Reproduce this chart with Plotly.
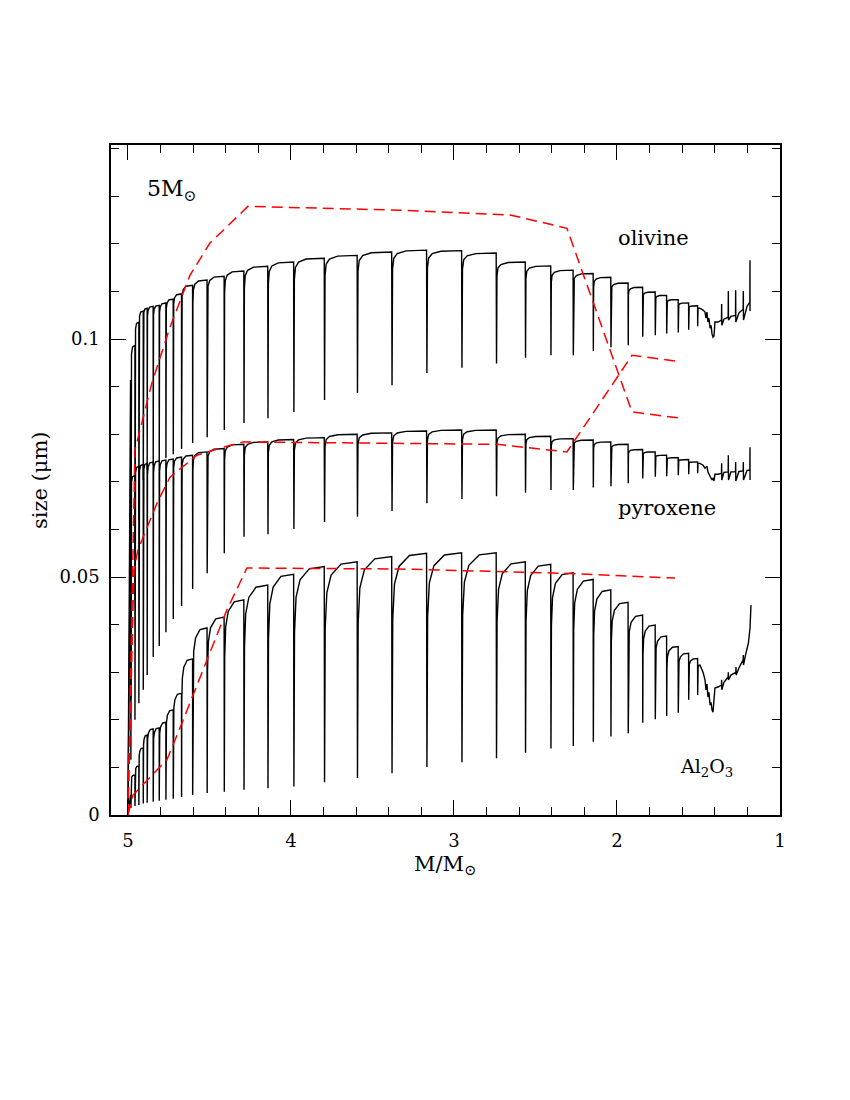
import plotly.graph_objects as go

# thermal pulse positions (stellar mass, M/Msun) shared by all three dust species
pulse_mass = [4.982, 4.957, 4.933, 4.906, 4.882, 4.845, 4.808, 4.767, 4.722, 4.671,
              4.603, 4.514, 4.409, 4.288, 4.141, 3.982, 3.794, 3.592, 3.380, 3.166,
              2.951, 2.739, 2.561, 2.405, 2.268, 2.145, 2.037, 1.931, 1.842, 1.765,
              1.695, 1.624, 1.560, 1.505]

# grain size just before each pulse and at the bottom of each dip (micron)
olivine_top = [0.0914, 0.0987, 0.1036, 0.1059, 0.1065, 0.1069, 0.1071, 0.1076, 0.1084, 0.1095,
               0.1113, 0.1124, 0.1132, 0.1143, 0.1153, 0.1162, 0.1170, 0.1176, 0.1183, 0.1187,
               0.1186, 0.1181, 0.1162, 0.1154, 0.1145, 0.1138, 0.1130, 0.1118, 0.1109, 0.1099,
               0.1092, 0.1083, 0.1076, 0.1070]
olivine_dip = [0.0242, 0.0452, 0.0620, 0.0704, 0.0725, 0.0735, 0.0742, 0.0750, 0.0758, 0.0769,
               0.0782, 0.0794, 0.0809, 0.0824, 0.0834, 0.0847, 0.0872, 0.0887, 0.0903, 0.0929,
               0.0940, 0.0949, 0.0961, 0.0966, 0.0966, 0.0975, 0.0983, 0.0987, 0.1005, 0.1008,
               0.1012, 0.1014, 0.1020, 0.1027]

pyroxene_top = [0.0620, 0.0714, 0.0733, 0.0737, 0.0739, 0.0742, 0.0744, 0.0746, 0.0748, 0.0752,
                0.0756, 0.0763, 0.0770, 0.0779, 0.0784, 0.0789, 0.0793, 0.0800, 0.0803, 0.0807,
                0.0809, 0.0809, 0.0800, 0.0796, 0.0791, 0.0788, 0.0784, 0.0779, 0.0768, 0.0763,
                0.0756, 0.0751, 0.0747, 0.0742]
pyroxene_dip = [0.0116, 0.0200, 0.0235, 0.0263, 0.0294, 0.0332, 0.0355, 0.0384, 0.0412, 0.0439,
                0.0475, 0.0508, 0.0550, 0.0585, 0.0590, 0.0601, 0.0616, 0.0627, 0.0639, 0.0655,
                0.0664, 0.0670, 0.0677, 0.0683, 0.0683, 0.0688, 0.0691, 0.0697, 0.0707, 0.0711,
                0.0712, 0.0714, 0.0716, 0.0718]

al2o3_top = [0.0042, 0.0084, 0.0103, 0.0141, 0.0168, 0.0181, 0.0183, 0.0195, 0.0221, 0.0256,
             0.0328, 0.0393, 0.0416, 0.0452, 0.0483, 0.0506, 0.0522, 0.0532, 0.0543, 0.0550,
             0.0551, 0.0551, 0.0532, 0.0527, 0.0509, 0.0495, 0.0473, 0.0447, 0.0420, 0.0399,
             0.0376, 0.0354, 0.0340, 0.0329]
al2o3_dip = [0.0015, 0.0019, 0.0021, 0.0024, 0.0026, 0.0028, 0.0030, 0.0032, 0.0034, 0.0038,
             0.0042, 0.0046, 0.0049, 0.0053, 0.0056, 0.0060, 0.0069, 0.0078, 0.0088, 0.0101,
             0.0111, 0.0119, 0.0131, 0.0140, 0.0145, 0.0154, 0.0165, 0.0172, 0.0194, 0.0201,
             0.0208, 0.0215, 0.0242, 0.0252]

# noisy end of the AGB (after the last resolved pulse)
olivine_tail_m = [1.491, 1.472, 1.460, 1.454, 1.448, 1.442, 1.436, 1.429, 1.423, 1.417, 1.411,
                  1.405, 1.399, 1.380, 1.359, 1.358, 1.357, 1.344, 1.318, 1.317, 1.316, 1.301,
                  1.273, 1.272, 1.271, 1.252, 1.226, 1.225, 1.224, 1.202, 1.185, 1.184, 1.184]
olivine_tail_y = [0.1065, 0.1061, 0.1057, 0.1044, 0.1057, 0.1036, 0.1044, 0.1023, 0.1029, 0.1011,
                  0.1004, 0.1006, 0.1036, 0.1036, 0.1040, 0.1074, 0.1029, 0.1042, 0.1046, 0.1101,
                  0.1040, 0.1048, 0.1050, 0.1103, 0.1036, 0.1055, 0.1063, 0.1101, 0.1040, 0.1069,
                  0.1078, 0.1166, 0.1059]

pyroxene_tail_m = [1.491, 1.472, 1.460, 1.448, 1.442, 1.429, 1.417, 1.411, 1.405, 1.399, 1.380,
                   1.359, 1.358, 1.357, 1.344, 1.318, 1.317, 1.316, 1.301, 1.273, 1.272, 1.271,
                   1.252, 1.226, 1.225, 1.224, 1.202, 1.185, 1.184, 1.184]
pyroxene_tail_y = [0.0739, 0.0735, 0.0729, 0.0733, 0.0721, 0.0712, 0.0704, 0.0708, 0.0702, 0.0716,
                   0.0716, 0.0718, 0.0739, 0.0704, 0.0720, 0.0721, 0.0756, 0.0704, 0.0721, 0.0721,
                   0.0742, 0.0702, 0.0722, 0.0723, 0.0742, 0.0704, 0.0724, 0.0725, 0.0773, 0.0704]

al2o3_tail_m = [1.491, 1.472, 1.460, 1.454, 1.448, 1.442, 1.436, 1.429, 1.423, 1.417, 1.411,
                1.405, 1.399, 1.380, 1.359, 1.358, 1.357, 1.344, 1.318, 1.317, 1.316, 1.301,
                1.271, 1.270, 1.269, 1.252, 1.226, 1.225, 1.224, 1.209, 1.194, 1.184, 1.178]
al2o3_tail_y = [0.0315, 0.0300, 0.0284, 0.0263, 0.0275, 0.0248, 0.0258, 0.0231, 0.0237, 0.0221,
                0.0216, 0.0242, 0.0267, 0.0269, 0.0273, 0.0284, 0.0263, 0.0279, 0.0290, 0.0300,
                0.0284, 0.0294, 0.0300, 0.0311, 0.0294, 0.0309, 0.0326, 0.0336, 0.0315, 0.0340,
                0.0361, 0.0393, 0.0441]

# red dashed comparison models
olivine_model_m = [5.0, 4.957, 4.853, 4.742, 4.620, 4.497, 4.264, 3.331, 2.656, 2.307, 1.908, 1.613]
olivine_model_y = [0.0, 0.0767, 0.0908, 0.1025, 0.1134, 0.1202, 0.1279, 0.1271, 0.1261, 0.1233, 0.0847, 0.0834]
pyroxene_model_m = [5.0, 4.963, 4.939, 4.822, 4.742, 4.577, 4.417, 4.294, 2.736, 2.307, 1.908, 1.644]
pyroxene_model_y = [0.0, 0.0515, 0.0557, 0.0655, 0.0710, 0.0756, 0.0773, 0.0784, 0.0779, 0.0763, 0.0966, 0.0954]
al2o3_model_m = [5.0, 4.969, 4.804, 4.761, 4.669, 4.393, 4.270, 3.331, 2.331, 1.644]
al2o3_model_y = [0.0, 0.0042, 0.0101, 0.0116, 0.0193, 0.0431, 0.0519, 0.0517, 0.0508, 0.0498]


def pulse_curve(tops, dips, tail_m, tail_y, rise_f, rise_g):
    """Join pulse dips and recoveries into one polyline, then append the tail."""
    xs, ys = [5.0, pulse_mass[0] + 0.002], [0.0, tops[0]]
    n = len(pulse_mass)
    for i in range(n):
        m0, y0 = pulse_mass[i], dips[i]
        if i < n - 1:
            m1, y1 = pulse_mass[i + 1], tops[i + 1]
        else:
            m1, y1 = tail_m[0], tail_y[0]
        xs.append(m0)
        ys.append(y0)
        for f, g in zip(rise_f, rise_g):
            xs.append(m0 - f * (m0 - m1))
            ys.append(y0 + g * (y1 - y0))
    return xs + tail_m, ys + tail_y


# recovery shape after each dip (fraction of interpulse, fraction of recovery)
fast_f, fast_g = [0.015, 0.05, 0.15, 0.4, 0.99], [0.86, 0.94, 0.975, 0.995, 1.0]
slow_f, slow_g = [0.02, 0.07, 0.2, 0.5, 0.99], [0.7, 0.86, 0.94, 0.99, 1.0]

fig = go.Figure()

for tops, dips, tm, ty, rf, rg in [
    (olivine_top, olivine_dip, olivine_tail_m, olivine_tail_y, fast_f, fast_g),
    (pyroxene_top, pyroxene_dip, pyroxene_tail_m, pyroxene_tail_y, fast_f, fast_g),
    (al2o3_top, al2o3_dip, al2o3_tail_m, al2o3_tail_y, slow_f, slow_g),
]:
    x, y = pulse_curve(tops, dips, tm, ty, rf, rg)
    fig.add_trace(go.Scatter(x=x, y=y, mode='lines',
                             line=dict(color='black', width=1.4), hoverinfo='skip'))

for mx, my in [(olivine_model_m, olivine_model_y),
               (pyroxene_model_m, pyroxene_model_y),
               (al2o3_model_m, al2o3_model_y)]:
    fig.add_trace(go.Scatter(x=mx, y=my, mode='lines',
                             line=dict(color='red', width=1.5, dash='11px,6px'),
                             hoverinfo='skip'))

tick_font = dict(family='DejaVu Serif', size=18, color='black')
label_font = dict(family='DejaVu Serif', size=21, color='black')

axis_common = dict(
    showline=True, linecolor='black', linewidth=1.5, mirror='ticks',
    ticks='inside', ticklen=15, tickwidth=1.2, tickcolor='black',
    showgrid=False, zeroline=False, tickfont=tick_font,
)

fig.update_xaxes(range=[5.104, 1.0], tickvals=[5, 4, 3, 2, 1], ticktext=['5', '4', '3', '2', '1'],
                 minor=dict(dtick=0.2, ticks='inside', ticklen=8, tickwidth=1.2, tickcolor='black'),
                 ticklabelstandoff=9, **axis_common)
fig.update_yaxes(range=[0, 0.1408], tickvals=[0, 0.05, 0.1], ticktext=['0', '0.05', '0.1'],
                 minor=dict(dtick=0.01, ticks='inside', ticklen=8, tickwidth=1.2, tickcolor='black'),
                 ticklabelstandoff=6, **axis_common)

fig.add_annotation(x=4.896, y=0.1313, text='5M<sub>⊙</sub>', showarrow=False,
                   xanchor='left', yanchor='middle',
                   font=dict(family='DejaVu Serif', size=22, color='black'))
fig.add_annotation(x=1.779, y=0.1212, text='olivine', showarrow=False, font=label_font)
fig.add_annotation(x=1.693, y=0.0645, text='pyroxene', showarrow=False, font=label_font)
fig.add_annotation(x=1.448, y=0.0099, text='Al<sub>2</sub>O<sub>3</sub>', showarrow=False,
                   font=dict(family='DejaVu Serif', size=19, color='black'))

fig.add_annotation(xref='paper', yref='paper', x=-0.106, y=0.5, text='size (μm)',
                   textangle=-90, showarrow=False, xanchor='center', yanchor='middle',
                   font=label_font)
fig.add_annotation(xref='paper', yref='paper', x=0.499, y=-0.075, text='M/M<sub>⊙</sub>',
                   showarrow=False, xanchor='center', yanchor='middle', font=label_font)

fig.update_layout(
    width=850, height=1100,
    margin=dict(l=103, r=78, t=137, b=293),
    paper_bgcolor='white', plot_bgcolor='white',
    showlegend=False,
)

fig.write_html("out.html")
